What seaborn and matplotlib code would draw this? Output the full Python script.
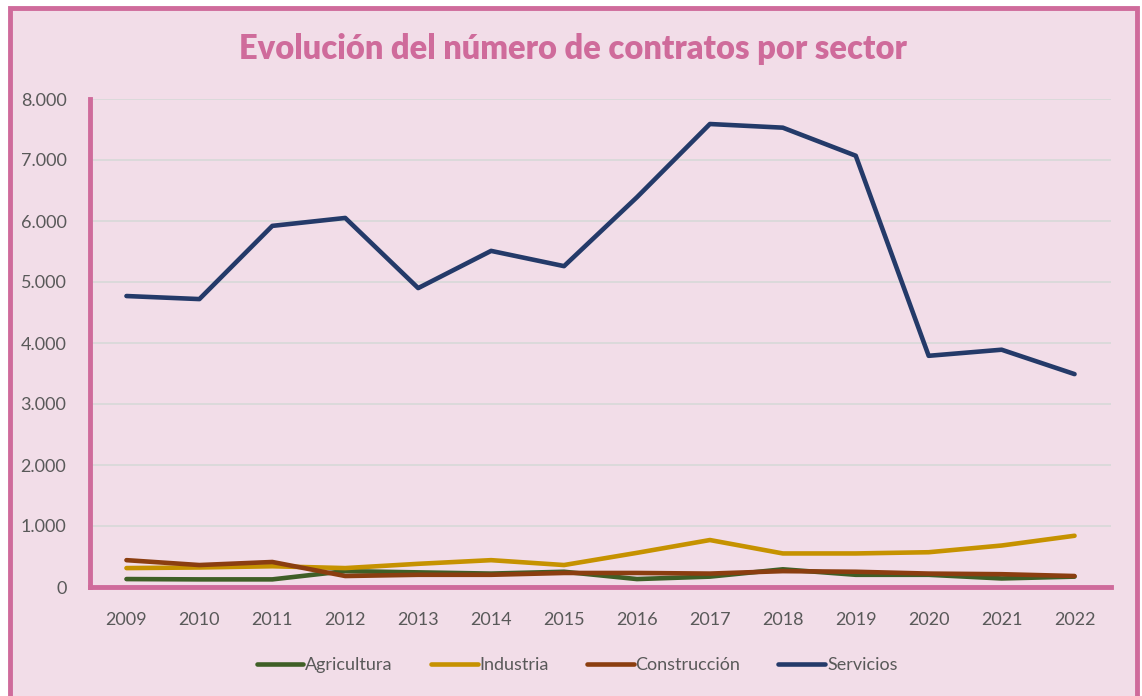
import matplotlib
matplotlib.use("Agg")
import matplotlib.pyplot as plt
import seaborn as sns
import pandas as pd
from matplotlib.patches import Rectangle
from matplotlib.ticker import FuncFormatter

years = [2009, 2010, 2011, 2012, 2013, 2014, 2015, 2016, 2017, 2018, 2019, 2020, 2021, 2022]
agricultura = [130, 125, 125, 260, 240, 220, 250, 130, 170, 290, 200, 200, 140, 170]
industria = [310, 320, 340, 310, 380, 440, 360, 560, 770, 550, 550, 570, 680, 840]
construccion = [440, 360, 410, 180, 200, 200, 230, 230, 220, 260, 250, 220, 210, 180]
servicios = [4770, 4720, 5920, 6050, 4900, 5510, 5260, 6390, 7590, 7530, 7070, 3790, 3890, 3490]

series = {"Agricultura": agricultura, "Industria": industria,
          "Construcción": construccion, "Servicios": servicios}
colors = ["#3F5F26", "#C69200", "#8B3E10", "#243A69"]

rows = []
for name, vals in series.items():
    for i, (y, v) in enumerate(zip(years, vals)):
        rows.append({"idx": i, "year": y, "sector": name, "value": v})
df = pd.DataFrame(rows)

sns.set_theme(style="white")
plt.rcParams["font.family"] = ["Lato", "DejaVu Sans"]

bg = "#F2DDE8"
pink = "#CF6B9B"
txt = "#595959"

fig = plt.figure(figsize=(11.42, 6.96), dpi=100)
fig.patch.set_facecolor("white")
W, H = 1142, 696
frame = Rectangle((10 / W, -0.05), 1127 / W, (1.05 - 8 / H), transform=fig.transFigure,
                  facecolor=bg, edgecolor=pink, linewidth=3.5, zorder=-10)
fig.add_artist(frame)

ax = fig.add_axes([90 / W, (H - 587) / H, (1111 - 90) / W, (587 - 99) / H])
ax.set_zorder(1)
ax.patch.set_alpha(0)

sns.lineplot(data=df, x="idx", y="value", hue="sector", palette=colors, linewidth=3.3,
             ax=ax, legend=True, solid_capstyle="round")

ax.set_xlim(-0.5, len(years) - 0.5)
ax.set_ylim(0, 8000)
ax.set_xticks(range(len(years)))
ax.set_xticklabels([str(y) for y in years])
ax.set_yticks(range(0, 8001, 1000))
ax.yaxis.set_major_formatter(FuncFormatter(lambda v, p: "0" if v == 0 else f"{int(v):,}".replace(",", ".")))
ax.tick_params(axis="both", length=0, labelsize=13, labelcolor=txt)
ax.tick_params(axis="x", pad=18)
ax.tick_params(axis="y", pad=17)
ax.grid(axis="y", color="#D9D9D9", linewidth=1.3)
ax.set_axisbelow(True)
ax.set_xlabel("")
ax.set_ylabel("")
for s in ["top", "right"]:
    ax.spines[s].set_visible(False)
for s in ["left", "bottom"]:
    ax.spines[s].set_color(pink)
    ax.spines[s].set_linewidth(3.5)

leg = ax.legend(loc="upper center", bbox_to_anchor=(0.477, -0.11), ncol=4, frameon=False,
                fontsize=13, handlelength=2.6, handletextpad=0.1, columnspacing=2.1)
for t in leg.get_texts():
    t.set_color(txt)
for l in leg.get_lines():
    l.set_linewidth(3.3)
    l.set_solid_capstyle("round")

fig.text(573 / W, 1 - 49 / H, "Evolución del número de contratos por sector", ha="center", va="center",
         fontsize=23.5, fontweight="heavy", color=pink)

fig.savefig("out.png", dpi=100, facecolor=fig.get_facecolor())
